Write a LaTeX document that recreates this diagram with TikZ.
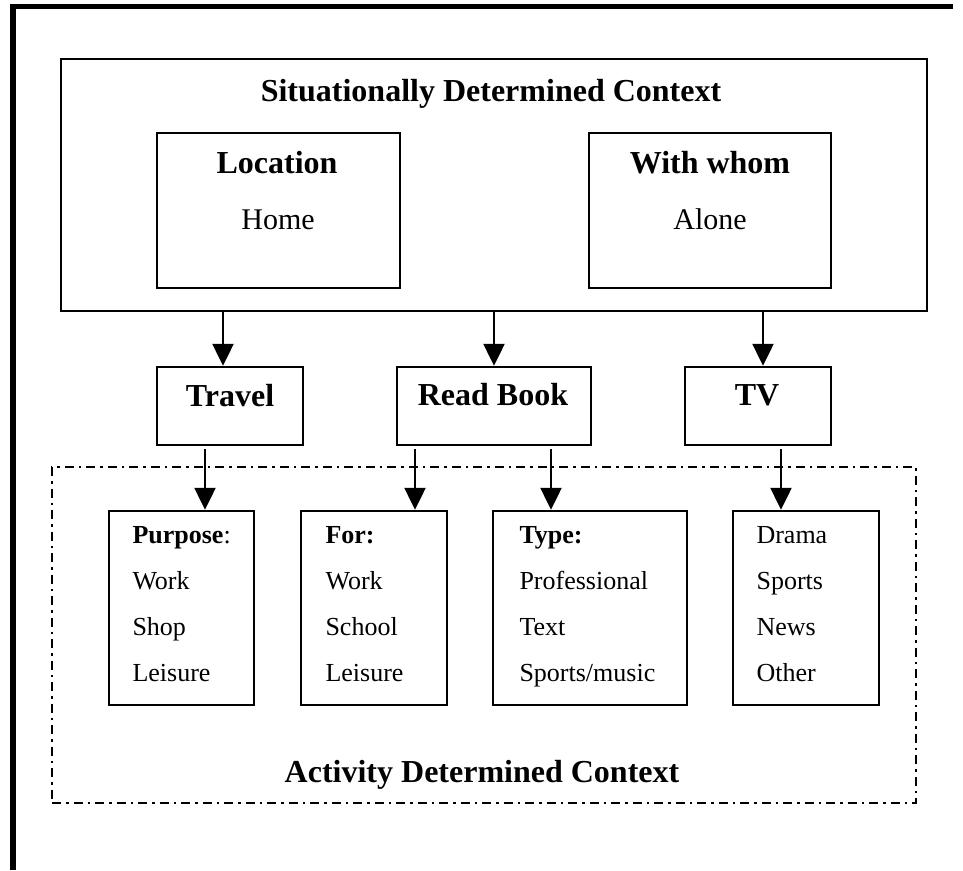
\documentclass[tikz,border=0pt]{standalone}
\usepackage{fontspec}
\setmainfont{Liberation Serif}
\usetikzlibrary{arrows.meta}
\tikzset{
  box/.style={draw, line width=2.5pt, inner sep=0pt},
  head/.style={anchor=base, font=\fontsize{32}{38}\selectfont\bfseries},
  sub/.style={anchor=base, font=\fontsize{30}{36}\selectfont},
  item/.style={anchor=base west, font=\fontsize{26}{31}\selectfont},
  arr/.style={line width=2.5pt, -{Triangle[width=21pt,length=22pt]}},
  dashdot/.style={line width=2.5pt, dash pattern=on 9pt off 5pt on 2.5pt off 5pt}
}
\begin{document}
\begin{tikzpicture}[x=1pt, y=-1pt]
\useasboundingbox (0,0) rectangle (963,870);
% frame
\draw[line width=5.5pt] (13,870) -- (13,6.5) -- (953,6.5);
% situational part
\node[box, minimum width=866pt, minimum height=252pt] (sdc) at (494,185) {};
\node[head] (sdctxt) at (491,101) {Situationally Determined Context};
\node[box, minimum width=243pt, minimum height=155pt] (loc) at (278.5,210.5) {};
\node[head] (loctxt) at (277,173) {Location};
\node[sub] (home) at (278,229) {Home};
\node[box, minimum width=242pt, minimum height=155pt] (who) at (710,210.5) {};
\node[head] (whotxt) at (710,173) {With whom};
\node[sub] (alone) at (710,229) {Alone};
% activities
\node[box, minimum width=146pt, minimum height=78pt] (travel) at (230,406) {};
\node[head] at (230,406) {Travel};
\node[box, minimum width=194pt, minimum height=78pt] (read) at (494,406) {};
\node[head] at (493,405) {Read Book};
\node[box, minimum width=146pt, minimum height=78pt] (tv) at (758,406) {};
\node[head] at (757,405) {TV};
\draw[arr] ([xshift=-7pt]travel.north |- sdc.south) -- ([xshift=-7pt]travel.north);
\draw[arr] (read.north |- sdc.south) -- (read.north);
\draw[arr] ([xshift=5pt]tv.north |- sdc.south) -- ([xshift=5pt]tv.north);
% activity part
\node[dashdot, draw, minimum width=864pt, minimum height=336pt, inner sep=0pt] (adc) at (484,635) {};
\node[head] (adctxt) at (482,782) {Activity Determined Context};
\node[box, minimum width=145pt, minimum height=194pt] (purpose) at (181.5,608) {};
\node[box, minimum width=146pt, minimum height=194pt] (for) at (374,608) {};
\node[box, minimum width=194pt, minimum height=194pt] (type) at (590,608) {};
\node[box, minimum width=146pt, minimum height=194pt] (drama) at (806,608) {};
\draw[arr] ([xshift=-25pt,yshift=-3pt]travel.south) -- ([xshift=-25pt]travel.south |- purpose.north);
\draw[arr] ([xshift=-79pt,yshift=-3pt]read.south) -- ([xshift=-79pt]read.south |- for.north);
\draw[arr] ([xshift=57pt,yshift=-3pt]read.south) -- ([xshift=57pt]read.south |- type.north);
\draw[arr] ([xshift=23pt,yshift=-3pt]tv.south) -- ([xshift=23pt]tv.south |- drama.north);
% lists
\foreach \t [count=\i from 0] in {\textbf{Purpose}:, Work, Shop, Leisure}
  \node[item] (pu\i) at (129,543+46*\i) {\t};
\foreach \t [count=\i from 0] in {\textbf{For:}, Work, School, Leisure}
  \node[item] (fo\i) at (322,543+46*\i) {\t};
\foreach \t [count=\i from 0] in {\textbf{Type:}, Professional, Text, Sports/music}
  \node[item] (ty\i) at (516,543+46*\i) {\t};
\foreach \t [count=\i from 0] in {Drama, Sports, News, Other}
  \node[item] (dr\i) at (753,543+46*\i) {\t};
\end{tikzpicture}
\end{document}
